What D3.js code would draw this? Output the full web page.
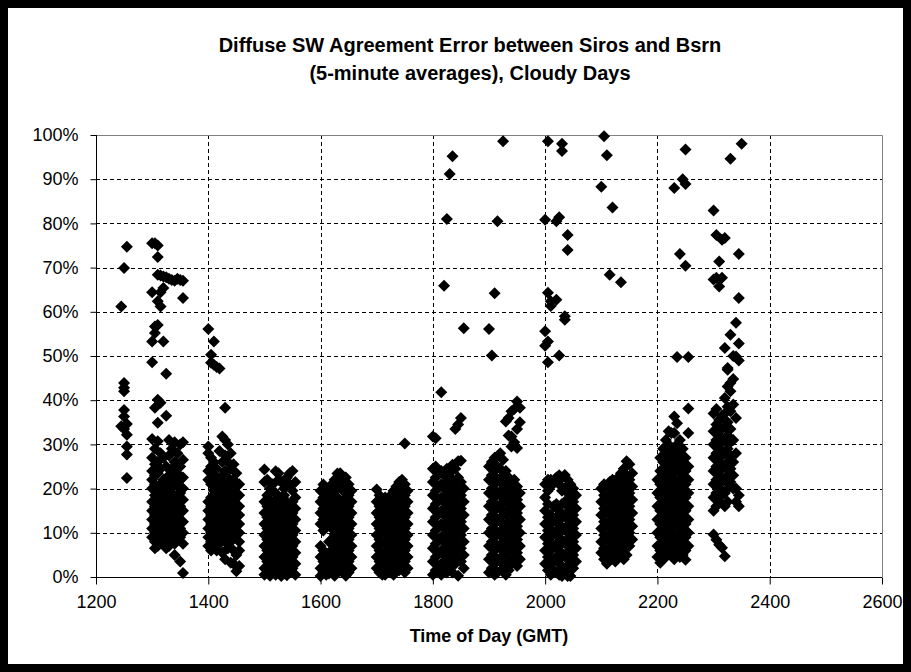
<!DOCTYPE html>
<html>
<head>
<meta charset="utf-8">
<script src="https://cdn.jsdelivr.net/npm/d3@7"></script>
<style>
  body { margin: 0; background: #fff; }
  text { font-family: "Liberation Sans", Arial, sans-serif; }
</style>
</head>
<body>
<div id="chart"></div>
<script>
// chart text
var titleLines = ["Diffuse SW Agreement Error between Siros and Bsrn", "(5-minute averages), Cloudy Days"];
var xTitle = "Time of Day (GMT)";
var xTicks = [1200, 1400, 1600, 1800, 2000, 2200, 2400, 2600];
var yTicks = [0, 0.1, 0.2, 0.3, 0.4, 0.5, 0.6, 0.7, 0.8, 0.9, 1.0];

// 5-minute averages, one row per time of day: [time, error % ...]
var h12 = [
  [1245, 61.2, 34.1],
  [1250, 69.9, 43.9, 42.8, 42.0, 37.8, 36.3, 33.5],
  [1255, 74.7, 34.6, 32.2, 29.5, 27.7, 22.4]
];
var h13 = [
  [1300, 75.5, 64.4, 53.3, 48.6, 31.2, 27, 24, 22, 20, 17, 15, 13, 11, 9],
  [1305, 75.5, 56.7, 55.2, 38.3, 29, 25.5, 23, 21, 18.5, 16, 14, 12, 10, 8, 6.5],
  [1310, 75, 72.4, 68.4, 62.4, 57, 40.1, 34.9, 30.7, 26, 23.5, 19.5, 17, 15, 13, 11, 9, 7],
  [1315, 68.2, 64.4, 61.2, 39.4, 28, 24.5, 21, 18, 16, 14, 12, 10, 8],
  [1320, 68, 65.4, 53.3, 27, 22, 19.5, 17.5, 15.5, 13.5, 11.5, 9.5, 7.5],
  [1325, 67.8, 46, 36.5, 25, 21, 18.5, 16.5, 14.5, 12.5, 10.5, 8.5, 6.5],
  [1330, 67.5, 31, 27.5, 23, 20, 17.5, 15, 13, 11, 9, 7],
  [1335, 67.2, 29, 24.5, 21.5, 19, 16.5, 14, 12, 10, 8],
  [1340, 67, 30.5, 26, 22, 18, 16, 13.5, 11.5, 9.5, 7.5, 5],
  [1345, 67.5, 28, 23.5, 20.5, 17, 14.5, 12.5, 10.5, 8.5],
  [1350, 67.2, 30, 25, 22, 19, 16, 13, 11, 9, 3.5],
  [1355, 67, 63.1, 30.5, 26.5, 22.5, 20, 17.5, 15, 12.5, 10, 7.5, 0.9]
];
var h14 = [
  [1400, 56.1, 29.5, 28, 24, 22, 17, 15, 13, 11, 9, 7],
  [1405, 50.3, 48.5, 27, 25, 21, 18, 16, 14, 12, 10, 8, 6],
  [1410, 53.3, 48, 26, 23, 19.5, 17, 15, 13, 11, 9, 7],
  [1415, 47.5, 24.5, 21.5, 18.5, 16, 14, 12, 10, 8, 6],
  [1420, 47.2, 28.5, 22, 20, 17.5, 15.5, 13.5, 11.5, 9.5, 7.5],
  [1425, 31.8, 26, 23, 19, 16.5, 14.5, 12.5, 10.5, 8.5, 5.5],
  [1430, 38.3, 31, 27.5, 24, 21, 18, 16, 14, 12, 10, 8, 4],
  [1435, 30, 26, 22.5, 19.5, 17, 15, 13, 11, 9, 6.5],
  [1440, 28, 24.5, 21, 18.5, 16, 14, 12, 10, 8, 3.2],
  [1445, 25.5, 22, 19, 17, 15, 13, 11, 9, 6, 3],
  [1450, 23.5, 20.5, 18, 15.5, 13.5, 11.5, 9.5, 5, 1.3],
  [1455, 21, 18.5, 16, 14, 12, 10, 8, 6, 2.5]
];
var h15 = [
  [1500, 24.3, 21.5, 17, 14.5, 12, 9.5, 7, 4.5, 2, 0.5],
  [1505, 22, 18.5, 16, 13.5, 11, 8.5, 6, 3.5, 1],
  [1510, 20, 17.5, 15, 12.5, 10, 7.5, 5, 2.5, 0.3],
  [1515, 21, 16.5, 14, 11.5, 9, 6.5, 4, 1.5],
  [1520, 23.9, 19, 17.5, 15, 12.5, 10, 7.5, 5, 2.5, 0.5],
  [1525, 23.5, 22, 18, 16, 13.5, 11, 8.5, 6, 3.5, 1],
  [1530, 21.5, 17, 14.5, 12, 9.5, 7, 4.5, 2, 0.2],
  [1535, 20, 18.5, 16, 13, 10.5, 8, 5.5, 3, 0.8],
  [1540, 22.5, 17, 14.5, 12, 9.5, 7, 4.5, 2, 0.4],
  [1545, 23.5, 21, 16, 13.5, 11, 8.5, 6, 3.5, 1],
  [1550, 24, 19.5, 17, 14.5, 12, 9.5, 7, 4.5, 2],
  [1555, 21.5, 18, 15.5, 13, 10.5, 8, 5.5, 3, 0.5]
];
var h16 = [
  [1600, 19.5, 17, 14.5, 12, 7, 4.5, 2, 0.2],
  [1605, 20.9, 18, 15.5, 13, 10.5, 6, 3.5, 1],
  [1610, 19, 16.5, 14, 11.5, 5, 2.5, 0.5],
  [1615, 20, 17.5, 15, 12.5, 8, 5.5, 3, 0.8],
  [1620, 21, 18.5, 16, 13.5, 11, 8.5, 6, 3.5, 1],
  [1625, 22, 19.5, 17, 14.5, 12, 9.5, 7, 4.5, 2, 0.3],
  [1630, 23.4, 20.5, 18, 15.5, 13, 10.5, 8, 5.5, 3],
  [1635, 23.5, 21, 16.5, 14, 11.5, 9, 6.5, 4, 1.5],
  [1640, 22, 19.5, 17, 14.5, 12, 9.5, 7, 4.5, 2],
  [1645, 22.5, 20, 18, 15.5, 13, 10.5, 8, 5.5, 3, 0.3],
  [1650, 21, 18.5, 16, 13.5, 11, 8.5, 6, 3.5, 1],
  [1655, 19.5, 17, 14.5, 12, 9.5, 7, 4.5, 2]
];
var h17 = [
  [1700, 19.8, 17, 14.5, 12, 9.5, 7, 4.5, 2],
  [1705, 18.5, 16, 13.5, 11, 8.5, 6, 3.5, 1],
  [1710, 17.5, 15, 12.5, 10, 7.5, 5, 2.5, 0.5],
  [1715, 18, 15.5, 13, 10.5, 8, 5.5, 3, 0.5],
  [1720, 17, 14.5, 12, 9.5, 7, 4.5, 2],
  [1725, 18.5, 16, 13.5, 11, 8.5, 6, 3.5, 1],
  [1730, 19.5, 17, 14.5, 12, 9.5, 7, 4.5, 2, 0.5],
  [1735, 20.5, 18, 15.5, 13, 10.5, 8, 5.5, 3],
  [1740, 21.5, 19, 16.5, 14, 11.5, 9, 6.5, 4, 1.5],
  [1745, 22, 20, 17.5, 15, 12.5, 10, 7.5, 5, 2.5],
  [1750, 30.2, 21, 18.5, 16, 13.5, 11, 8.5, 6, 3.5, 1],
  [1755, 19.5, 17, 14.5, 12, 9.5, 7, 4.5, 2]
];
var h18 = [
  [1800, 31.8, 24.5, 21.5, 18.5, 15.5, 12.5, 9.5, 6.5, 3.5, 0.5],
  [1805, 31.4, 25, 22.5, 19.5, 16.5, 13.5, 10.5, 7.5, 4.5, 1.5],
  [1810, 23.5, 20.5, 17.5, 14.5, 11.5, 8.5, 5.5, 2.5],
  [1815, 41.8, 24, 21, 18, 15, 12, 9, 6, 3, 0.5],
  [1820, 65.9, 23, 20, 17, 14, 11, 8, 5, 2],
  [1825, 81, 24.5, 21.5, 18.5, 15.5, 12.5, 9.5, 6.5, 3.5, 1],
  [1830, 91.2, 23.5, 20.5, 17.5, 14.5, 11.5, 8.5, 5.5, 2.5],
  [1835, 95.2, 25.4, 22, 19, 16, 13, 10, 7, 4, 1],
  [1840, 33.5, 24.5, 21, 18, 15, 12, 9, 6, 3],
  [1845, 34.5, 26.2, 22.5, 19.5, 16.5, 13.5, 10.5, 7.5, 4.5, 0.3],
  [1850, 36, 26.3, 21.5, 18.5, 15.5, 12.5, 9.5, 6.5, 3.5],
  [1855, 56.3, 20, 17, 14, 11, 8, 5, 2]
];
var h19 = [
  [1900, 56.1, 25, 22, 19, 16, 13, 10, 7, 4, 1],
  [1905, 50.1, 26, 23, 20, 17, 14, 11, 8, 5, 2],
  [1910, 64.2, 27, 24, 21, 18, 15, 12, 9, 6, 3, 0.5],
  [1915, 80.5, 27.3, 25, 22, 19, 16, 13, 10, 7, 4, 1],
  [1920, 28, 24.5, 21.5, 18.5, 15.5, 12.5, 9.5, 6.5, 3.5],
  [1925, 98.6, 26.5, 23, 20, 17, 14, 11, 8, 5, 2],
  [1930, 35.2, 24, 21, 18, 15, 12, 9, 6, 3, 0.5],
  [1935, 36, 32, 22.5, 19.5, 16.5, 13.5, 10.5, 7.5, 4.5, 1.5],
  [1940, 37.5, 31.8, 29.5, 21, 18, 15, 12, 9, 6, 3],
  [1945, 38, 30.5, 22, 19, 16, 13, 10, 7, 4],
  [1950, 39.7, 33.5, 29.2, 20.5, 17.5, 14.5, 11.5, 8.5, 5.5, 2.5],
  [1955, 38.3, 35, 19, 16, 13, 10, 7, 4]
];
var h20 = [
  [2000, 80.8, 55.6, 52.3, 21, 18, 15, 12, 9, 6, 3],
  [2005, 98.6, 64.3, 53.3, 48.6, 22, 19.5, 16.5, 13.5, 10.5, 7.5, 4.5, 1.5],
  [2010, 62.4, 61.3, 22, 20.5, 14, 12, 9, 6, 3, 0.5],
  [2015, 21.5, 16, 13, 10, 7, 4, 1.5],
  [2020, 80.5, 62.7, 22.5, 16.5, 13.5, 10.5, 7.5, 4.5, 1],
  [2025, 81.4, 50.1, 23, 21, 15, 12, 9, 6, 3, 0.5],
  [2030, 98, 96.4, 22.5, 19.5, 16.5, 13.5, 10.5, 7.5, 4.5, 1.5, 0.2],
  [2035, 59, 58.2, 23.1, 20, 17, 14, 11, 8, 5, 2],
  [2040, 77.4, 74, 22, 19, 16, 13, 10, 7, 4, 1, 0.2],
  [2045, 21, 18, 15, 12, 9, 6, 3, 0.2],
  [2050, 20, 17, 14, 11, 8, 5, 2],
  [2055, 18.5, 15.5, 12.5, 9.5, 6.5, 3.5]
];
var h21 = [
  [2100, 88.3, 20, 17, 14, 11, 8, 5.5],
  [2105, 99.7, 21, 18.5, 15.5, 12.5, 9.5, 6.5, 4],
  [2110, 95.4, 20.5, 17.5, 14.5, 11.5, 8.5, 5.5, 3],
  [2115, 68.4, 21.5, 18.5, 15.5, 12.5, 9.5, 6.5, 4],
  [2120, 83.6, 22, 19.5, 16.5, 13.5, 10.5, 7.5, 4.5],
  [2125, 21, 18, 15, 12, 9, 6, 3.5],
  [2130, 22.5, 19.5, 16.5, 13.5, 10.5, 7.5, 4.5],
  [2135, 66.7, 23.5, 20.5, 17.5, 14.5, 11.5, 8.5, 5.5],
  [2140, 24.5, 21.5, 18.5, 15.5, 12.5, 9.5, 6.5, 4],
  [2145, 26.2, 23, 20, 17, 14, 11, 8, 5],
  [2150, 25.5, 22, 19, 16, 13, 10, 7],
  [2155, 23.5, 20.5, 17.5, 14.5, 11.5, 8.5]
];
var h22 = [
  [2200, 22, 19, 16, 13, 10, 7, 4.5],
  [2205, 27, 24, 21, 18, 15, 12, 9, 6, 3.2],
  [2210, 29, 26, 23, 20, 17, 14, 11, 8, 5],
  [2215, 31, 28, 25, 22, 19, 16, 13, 10, 7, 4.5],
  [2220, 33, 30, 27, 24, 21, 18, 15, 12, 9, 6],
  [2225, 32.6, 29, 26, 23, 20, 17, 14, 11, 8, 5],
  [2230, 88, 36.3, 32.6, 28, 25, 22, 19, 16, 13, 10, 7, 4],
  [2235, 49.8, 34.8, 30, 27, 24, 21, 18, 15, 12, 9, 6],
  [2240, 73.1, 31, 28, 25, 22, 19, 16, 13, 10, 7, 4.5],
  [2245, 90, 29, 26, 23, 20, 17, 14, 11, 8, 5],
  [2250, 96.7, 88.9, 70.4, 27, 24, 21, 18, 15, 12, 9, 6, 3.9],
  [2255, 49.8, 38.1, 32.6, 25, 22, 19, 16, 13, 10, 7]
];
var h23 = [
  [2300, 82.9, 67.3, 37, 33, 30, 27, 24, 21, 18, 15, 9.6],
  [2305, 77.4, 67.7, 38, 34.5, 31, 28, 25, 22, 19, 16, 8.4],
  [2310, 71.4, 65.7, 35.5, 32, 29, 26, 23, 20, 17, 7.3],
  [2315, 76.3, 67.7, 36.5, 33.5, 30.5, 27.5, 24.5, 21.5, 18.5, 6.6],
  [2320, 76.7, 51.8, 40.5, 37, 34, 31, 28, 25, 22, 19, 16, 4.7],
  [2325, 47.3, 46.9, 43.1, 38.5, 35, 32, 29, 26, 23, 20, 17],
  [2330, 94.6, 54.8, 43.9, 42, 37.5, 33.5, 30.5, 27.5, 24.5, 21.5],
  [2335, 50, 44.8, 39, 31, 26, 23, 20],
  [2340, 57.5, 49.9, 36, 28, 20, 17],
  [2345, 73.1, 63.1, 52.8, 49, 18.5, 16],
  [2350, 98]
];

var W = 911, H = 672;
var margin = { top: 135, left: 96, bottom: 95, right: 29 };

var svg = d3.select("#chart").append("svg")
  .attr("width", W)
  .attr("height", H)
  .style("display", "block");

svg.append("rect").attr("width", W).attr("height", H).attr("fill", "#fff");

var x = d3.scaleLinear().domain([1200, 2600]).range([margin.left, W - margin.right]);
var y = d3.scaleLinear().domain([0, 1]).range([H - margin.bottom, margin.top]);

// flatten hour tables into points
var points = [];
[h12, h13, h14, h15, h16, h17, h18, h19, h20, h21, h22, h23].forEach(function(hour) {
  hour.forEach(function(row) {
    for (var k = 1; k < row.length; k++) {
      points.push({ t: row[0], v: row[k] / 100 });
    }
  });
});

// dashed gridlines
svg.append("g").selectAll("line.hg")
  .data(yTicks.slice(1, -1))
  .enter().append("line")
  .attr("x1", x(1200)).attr("x2", x(2600))
  .attr("y1", function(d) { return Math.round(y(d)) + 0.5; })
  .attr("y2", function(d) { return Math.round(y(d)) + 0.5; })
  .attr("stroke", "#000").attr("stroke-dasharray", "4,3");

svg.append("g").selectAll("line.vg")
  .data(xTicks.slice(1, -1))
  .enter().append("line")
  .attr("x1", function(d) { return Math.round(x(d)) + 0.5; })
  .attr("x2", function(d) { return Math.round(x(d)) + 0.5; })
  .attr("y1", y(1)).attr("y2", y(0))
  .attr("stroke", "#000").attr("stroke-dasharray", "4,3");

// plot area border (top / right)
svg.append("path")
  .attr("d", "M" + x(1200) + "," + (Math.round(y(1)) + 0.5) + "H" + (Math.round(x(2600)) + 0.5) + "V" + y(0))
  .attr("fill", "none").attr("stroke", "#808080");

// axes
var yAxis = d3.axisLeft(y).tickValues(yTicks).tickFormat(d3.format(".0%")).tickSize(6).tickPadding(12);
var gy = svg.append("g").attr("transform", "translate(" + (Math.round(x(1200)) + 0.5) + ",0)").call(yAxis);
var xAxis = d3.axisBottom(x).tickValues(xTicks).tickFormat(d3.format("d")).tickSize(7).tickPadding(11);
var gx = svg.append("g").attr("transform", "translate(0," + (Math.round(y(0)) + 0.5) + ")").call(xAxis);

[gx, gy].forEach(function(g) {
  g.select(".domain").attr("stroke", "#000");
  g.selectAll(".tick line").attr("stroke", "#000");
  g.selectAll(".tick text").attr("fill", "#000")
    .style("font-size", "18px")
    .style("font-family", "'Liberation Sans', Arial, sans-serif");
});
gx.select(".domain").attr("d", "M" + x(1200) + ",0H" + x(2600));
gy.select(".domain").attr("d", "M0," + y(0) + "V" + y(1));

// diamond markers
svg.append("g").selectAll("path.pt")
  .data(points)
  .enter().append("path")
  .attr("class", "pt")
  .attr("d", "M0,-6L6,0L0,6L-6,0Z")
  .attr("transform", function(d) { return "translate(" + x(d.t) + "," + y(d.v) + ")"; })
  .attr("fill", "#000");

// titles
svg.append("g").selectAll("text.title")
  .data(titleLines)
  .enter().append("text")
  .attr("x", 470)
  .attr("y", function(d, i) { return 52 + i * 28; })
  .attr("text-anchor", "middle")
  .style("font-size", "20px")
  .style("font-weight", "bold")
  .text(function(d) { return d; });

svg.append("text")
  .attr("x", (x(1200) + x(2600)) / 2)
  .attr("y", 642)
  .attr("text-anchor", "middle")
  .style("font-size", "18px")
  .style("font-weight", "bold")
  .text(xTitle);

// outer frame
svg.append("rect")
  .attr("x", 4).attr("y", 4)
  .attr("width", W - 8).attr("height", H - 8)
  .attr("fill", "none").attr("stroke", "#000").attr("stroke-width", 8);
</script>
</body>
</html>
